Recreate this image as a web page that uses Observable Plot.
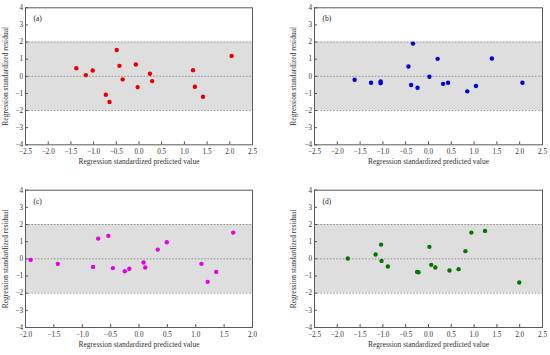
<!DOCTYPE html>
<html>
<head>
<meta charset="utf-8">
<script src="https://cdn.jsdelivr.net/npm/d3@7"></script>
<script src="https://cdn.jsdelivr.net/npm/@observablehq/plot@0.6"></script>
<style>
  html, body { margin: 0; padding: 0; background: #fff; }
  #fig { position: relative; width: 550px; height: 355px; background: #fff; }
  .panel { position: absolute; }
</style>
</head>
<body>
<div id="fig"></div>
<script>
// ---- Data ----
const panelLabels = ["(a)", "(b)", "(c)", "(d)"];
const xTitle = "Regression standardized predicted value";
const yTitle = "Regression standardized residual";

const xTicksAB = [-2.5, -2.0, -1.5, -1.0, -0.5, 0.0, 0.5, 1.0, 1.5, 2.0, 2.5];
const xTicksC = [-2.0, -1.5, -1.0, -0.5, 0.0, 0.5, 1.0, 1.5, 2.0];
const yTicks = [-4, -3, -2, -1, 0, 1, 2, 3, 4];
const bandLimits = [-2, 2];
const refLines = [-2, 0, 2];

const aX = [-1.38, -1.17, -1.02, -0.73, -0.65, -0.49, -0.43, -0.36, -0.07, -0.03, 0.24, 0.29, 1.19, 1.23, 1.41, 2.04];
const aY = [0.47, 0.07, 0.34, -1.08, -1.50, 1.54, 0.61, -0.18, 0.69, -0.63, 0.15, -0.28, 0.36, -0.61, -1.19, 1.19];

const bX = [-1.62, -1.26, -1.05, -1.05, -0.44, -0.34, -0.38, -0.24, 0.02, 0.20, 0.32, 0.43, 0.85, 1.04, 1.39, 2.06];
const bY = [-0.20, -0.38, -0.30, -0.40, 0.57, 1.91, -0.51, -0.67, -0.03, 1.02, -0.44, -0.38, -0.88, -0.57, 1.04, -0.38];

const cX = [-1.91, -1.43, -0.81, -0.72, -0.54, -0.46, -0.25, -0.17, 0.08, 0.11, 0.33, 0.49, 1.10, 1.21, 1.36, 1.66];
const cY = [-0.06, -0.29, -0.47, 1.18, 1.34, -0.54, -0.72, -0.58, -0.21, -0.50, 0.54, 0.97, -0.29, -1.34, -0.76, 1.53];

const dX = [-1.77, -1.16, -1.04, -1.03, -0.89, -0.25, -0.22, 0.02, 0.06, 0.15, 0.46, 0.66, 0.81, 0.94, 1.24, 1.99];
const dY = [0.02, 0.25, 0.83, -0.12, -0.45, -0.76, -0.78, 0.70, -0.35, -0.50, -0.68, -0.60, 0.45, 1.53, 1.63, -1.38];

const colors = ["#e60000", "#0000d8", "#e600e6", "#007800"];

// ---- Drawing ----
const panels = [
  {label: panelLabels[0], xs: aX, ys: aY, xTicks: xTicksAB, color: colors[0], left: 0,   top: 0,   h: 178, mL: 25, mR: 23, mT: 7.3,  mB: 33.7, yLabDx: -20},
  {label: panelLabels[1], xs: bX, ys: bY, xTicks: xTicksAB, color: colors[1], left: 275, top: 0,   h: 178, mL: 39, mR: 8,  mT: 7.3,  mB: 33.7, yLabDx: -21},
  {label: panelLabels[2], xs: cX, ys: cY, xTicks: xTicksC,  color: colors[2], left: 0,   top: 178, h: 177, mL: 25, mR: 23, mT: 11.7, mB: 28,   yLabDx: -20},
  {label: panelLabels[3], xs: dX, ys: dY, xTicks: xTicksAB, color: colors[3], left: 275, top: 178, h: 177, mL: 39, mR: 8,  mT: 11.7, mB: 28,   yLabDx: -21}
];

const fig = document.getElementById("fig");
const fmt = d3.format(".1f");
const minus = s => s.replace("-", "\u2212");

for (const p of panels) {
  const pts = p.xs.map((x, i) => ({x, y: p.ys[i]}));
  const xd = [p.xTicks[0], p.xTicks[p.xTicks.length - 1]];
  const chart = Plot.plot({
    width: 275,
    height: p.h,
    marginLeft: p.mL,
    marginRight: p.mR,
    marginTop: p.mT,
    marginBottom: p.mB,
    style: {fontFamily: "'Liberation Serif', 'Times New Roman', serif", fontSize: "7.2px", color: "#333", background: "white"},
    x: {domain: xd, ticks: p.xTicks},
    y: {domain: [yTicks[0], yTicks[yTicks.length - 1]], ticks: yTicks},
    marks: [
      Plot.rect([bandLimits], {x1: xd[0], x2: xd[1], y1: d => d[0], y2: d => d[1], fill: "#dedede"}),
      Plot.ruleY(refLines, {y: d => d, stroke: "#8a8a8a", strokeWidth: 0.9, strokeDasharray: "1.6,1.6"}),
      Plot.axisX(p.xTicks, {tickSize: -3, stroke: "#555", tickFormat: d => minus(fmt(d)), tickPadding: 7.5, label: null, fill: "#333"}),
      Plot.axisY(yTicks, {tickSize: -3, stroke: "#555", tickFormat: d => minus(String(d)), tickPadding: 5.3, label: null, fill: "#333"}),
      Plot.frame({stroke: "#5a5a5a", strokeWidth: 1}),
      Plot.dot(pts, {x: "x", y: "y", r: 2.2, fill: p.color, stroke: null}),
      Plot.text([p.label], {text: d => d, frameAnchor: "top-left", dx: 8, dy: 8, fontSize: 7.5, fill: "#222"}),
      Plot.text([xTitle], {text: d => d, frameAnchor: "bottom", dy: 19.5, fontSize: 7.5, fill: "#333"}),
      Plot.text([yTitle], {text: d => d, frameAnchor: "left", textAnchor: "middle", rotate: -90, dx: p.yLabDx, fontSize: 7.5, fill: "#333"})
    ]
  });
  const wrap = document.createElement("div");
  wrap.className = "panel";
  wrap.style.left = p.left + "px";
  wrap.style.top = p.top + "px";
  wrap.appendChild(chart);
  fig.appendChild(wrap);
}
</script>
</body>
</html>
